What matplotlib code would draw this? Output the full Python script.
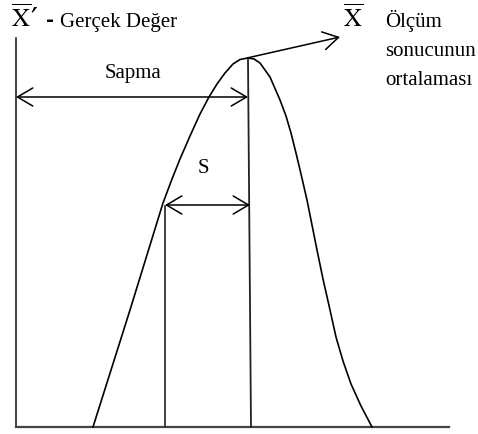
"""
Normal dagilim egrisi: gercek deger, olcum ortalamasi, sapma ve s
"""

import matplotlib.pyplot as plt

plt.rcParams['font.family'] = ['Liberation Serif', 'DejaVu Serif']
plt.rcParams['mathtext.fontset'] = 'stix'

# Egri noktalari (x, y) - eksen kosesinden itibaren
curve_x = [77, 114, 147, 156, 164, 174, 184, 193, 201, 209, 217, 224, 232,
           238, 244, 254, 264, 270, 275, 280, 285, 291, 301, 307, 314, 320,
           327, 335, 345, 356]
curve_y = [0, 117, 224, 248, 268, 291, 313, 330, 343, 354, 363, 367.5, 369,
           368, 364, 350, 327, 311, 294, 274, 253, 227, 177, 148, 117, 90,
           66, 43, 21, 0]

# Dikey cizgiler ve oklar
axis_top = 389
axis_right = 433
mean_line_x = [232, 235]
mean_line_y = [367, 0]
s_line_x = 149
s_line_top = 221

sapma_y = 330
sapma_x = [0, 232]
s_y = 222
s_x = [149, 234]
mean_arrow = [(231, 369), (324, 390)]

fig = plt.figure(figsize=(4.78, 4.34), dpi=100)
ax = fig.add_axes([0, 0, 1, 1])
ax.set_xlim(-16, 462)
ax.set_ylim(-7, 427)
ax.axis('off')

# Eksenler
ax.plot([0, 0], [0, axis_top], color='#222222', lw=1.2)
ax.plot([0, axis_right], [0, 0], color='#444444', lw=1.6)

# Egri
ax.plot(curve_x, curve_y, color='black', lw=1.2)

# Dikey cizgiler
ax.plot(mean_line_x, mean_line_y, color='#222222', lw=1.3)
ax.plot([s_line_x, s_line_x], [0, s_line_top], color='#333333', lw=1.3)

arrow_style = '<->,head_length=1.1,head_width=0.65'
ax.annotate('', xy=(sapma_x[0], sapma_y), xytext=(sapma_x[1], sapma_y),
            arrowprops=dict(arrowstyle=arrow_style, color='black', lw=1.1,
                            shrinkA=0, shrinkB=0, mutation_scale=10))
ax.annotate('', xy=(s_x[0], s_y), xytext=(s_x[1], s_y),
            arrowprops=dict(arrowstyle=arrow_style, color='black', lw=1.1,
                            shrinkA=0, shrinkB=0, mutation_scale=10))
ax.annotate('', xy=mean_arrow[1], xytext=mean_arrow[0],
            arrowprops=dict(arrowstyle='->,head_length=1.1,head_width=0.65',
                            color='black', lw=1.1,
                            shrinkA=0, shrinkB=0, mutation_scale=10))

# Yazilar
ax.text(117, 349, 'Sapma', fontsize=15, ha='center', va='baseline')
ax.text(187, 254, 'S', fontsize=15, ha='center', va='baseline')

ax.text(-5, 400, r"$\overline{\mathrm{X}}$", fontsize=18, ha='left', va='baseline')
ax.text(14, 398, '′', fontsize=22, ha='left', va='baseline',
        family='DejaVu Sans')
ax.text(30, 401, '-', fontsize=14, ha='left', va='baseline',
        family='DejaVu Sans', fontweight='bold')
ax.text(44, 400, 'Gerçek Değer', fontsize=15, ha='left', va='baseline')

ax.text(337, 400, r'$\overline{\mathrm{X}}$', fontsize=18, ha='center', va='baseline')
ax.text(369, 400, 'Ölçüm', fontsize=15, ha='left', va='baseline')
ax.text(369, 371, 'sonucunun', fontsize=15, ha='left', va='baseline')
ax.text(369, 342, 'ortalaması', fontsize=15, ha='left', va='baseline')

plt.savefig('out.png', dpi=100)
